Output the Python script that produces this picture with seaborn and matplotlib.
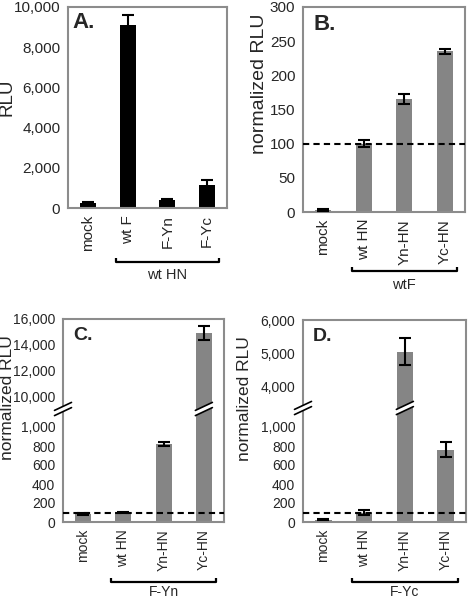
import matplotlib
matplotlib.use("Agg")
import matplotlib.pyplot as plt
import numpy as np
import seaborn as sns
from matplotlib.ticker import FixedLocator, FuncFormatter

# ---- data ----
cats_a = ["mock", "wt F", "F-Yn", "F-Yc"]
rlu_a = [250, 9100, 420, 1150]
err_a = [40, 500, 50, 250]

cats_b = ["mock", "wt HN", "Yn-HN", "Yc-HN"]
rlu_b = [3, 100, 165, 235]
err_b = [1, 5, 7, 4]

cats_c = ["mock", "wt HN", "Yn-HN", "Yc-HN"]
rlu_c = [82, 102, 825, 14950]
err_c = [12, 4, 20, 550]

cats_d = ["mock", "wt HN", "Yn-HN", "Yc-HN"]
rlu_d = [25, 100, 5050, 760]
err_d = [5, 25, 400, 80]

ticks_a = [0, 2000, 4000, 6000, 8000, 10000]
ticks_b = [0, 50, 100, 150, 200, 250, 300]
ticks_c = [0, 200, 400, 600, 800, 1000, 10000, 12000, 14000, 16000]
ticks_d = [0, 200, 400, 600, 800, 1000, 4000, 5000, 6000]

groups = ["wt HN", "wtF", "F-Yn", "F-Yc"]

SPINE = "#8c8c8c"
GRAY = "#858585"
W, H = 470, 600

sns.set_theme(style="white")
plt.rcParams["font.family"] = ["Liberation Sans", "DejaVu Sans"]


def piecewise(ys, ps):
    ys = np.asarray(ys, float)
    ps = np.asarray(ps, float)

    def make(a, b):
        lo = (b[1] - b[0]) / (a[1] - a[0])
        hi = (b[-1] - b[-2]) / (a[-1] - a[-2])

        def f(v):
            v = np.asarray(v, float)
            out = np.interp(v, a, b)
            out = np.where(v < a[0], b[0] + (v - a[0]) * lo, out)
            out = np.where(v > a[-1], b[-1] + (v - a[-1]) * hi, out)
            return out
        return f
    return make(ys, ps), make(ps, ys)


def px_axes(fig, l, r, t, b):
    return fig.add_axes([l / W, (H - b) / H, (r - l) / W, (b - t) / H])


def style_axes(ax, cats, tick_fs):
    for s in ax.spines.values():
        s.set_color(SPINE)
        s.set_linewidth(1.5)
    ax.set_xlim(-0.5, len(cats) - 0.5)
    ax.xaxis.set_minor_locator(FixedLocator(np.arange(-0.5, len(cats), 1.0)))
    ax.tick_params(axis="x", which="major", length=0, pad=5, labelsize=tick_fs, labelrotation=90)
    ax.tick_params(axis="x", which="minor", length=3.5, width=1.2, color=SPINE, direction="out")
    ax.tick_params(axis="y", length=3.5, width=1.2, color=SPINE, direction="out", pad=2,
                   labelsize=tick_fs)
    ax.set_xlabel("")
    ax.yaxis.set_major_formatter(FuncFormatter(lambda v, p: f"{v:,.0f}"))


def bracket(ax, label, y_br, y_lab, fs):
    tr = ax.get_xaxis_transform()
    bb = ax.get_position()
    up = 4 / (bb.height * H)
    ax.plot([0.7, 0.7, 3.3, 3.3], [y_br + up, y_br, y_br, y_br + up], color="black",
            lw=1.6, transform=tr, clip_on=False, solid_capstyle="butt")
    ax.text(2.0, y_lab, label, transform=tr, ha="center", va="center", fontsize=fs)


def break_mark(ax, xa, ya):
    bb = ax.get_position()
    axw, axh = bb.width * W, bb.height * H
    dx, dy, g = 8.5 / axw, 4 / axh, 2.6 / axh
    xs = [xa - dx, xa + dx]
    top = [ya + g - dy, ya + g + dy]
    bot = [ya - g - dy, ya - g + dy]
    ax.fill([xs[0], xs[1], xs[1], xs[0]], [bot[0], bot[1], top[1], top[0]], color="white",
            transform=ax.transAxes, clip_on=False, zorder=5, lw=0)
    for yy in (top, bot):
        ax.plot(xs, yy, color="black", lw=1.2, transform=ax.transAxes, clip_on=False, zorder=6)


def panel(ax, cats, vals, errs, color, letter, letter_fs, ylabel, ylabel_fs, tick_fs):
    sns.barplot(x=cats, y=vals, color=color, saturation=1, width=0.4, errorbar=None,
                linewidth=0, ax=ax)
    ax.errorbar(np.arange(len(cats)), vals, yerr=errs, fmt="none", ecolor="black",
                elinewidth=1.5, capsize=4, capthick=1.5, zorder=4)
    style_axes(ax, cats, tick_fs)
    ax.set_ylabel(ylabel, fontsize=ylabel_fs)
    ax.text(0.0, 0.0, letter, transform=ax.transAxes, fontsize=letter_fs, fontweight="bold",
            ha="left", va="top")
    return ax.texts[-1]


fig = plt.figure(figsize=(W / 100, H / 100), dpi=100)

# A
ax = px_axes(fig, 68, 227, 7, 208)
t = panel(ax, cats_a, rlu_a, err_a, "black", "A.", 16, "RLU", 13.5, 11)
t.set_position((0.03, 0.975))
ax.set_ylim(0, 10000)
ax.set_yticks(ticks_a)
ax.yaxis.set_label_coords(-0.33, 0.55)
bracket(ax, groups[0], -0.268, -0.333, 10.5)

# B
ax = px_axes(fig, 303, 465, 7, 212)
t = panel(ax, cats_b, rlu_b, err_b, GRAY, "B.", 16, "normalized RLU", 14, 11)
t.set_position((0.062, 0.966))
ax.set_ylim(0, 300)
ax.set_yticks(ticks_b)
ax.axhline(100, color="black", lw=1.5, ls=(0, (3, 2)), zorder=5)
ax.yaxis.set_label_coords(-0.216, 0.624)
bracket(ax, groups[1], -0.288, -0.356, 10.5)

# C
ax = px_axes(fig, 63, 224, 319, 522)
t = panel(ax, cats_c, rlu_c, err_c, GRAY, "C.", 14, "normalized RLU", 12.5, 10)
t.set_position((0.062, 0.96))
fwd, inv = piecewise([0, 1000, 10000, 16000], [0, 95, 125, 203])
ax.set_yscale("function", functions=(fwd, inv))
ax.set_ylim(0, 16000)
ax.set_yticks(ticks_c)
ax.yaxis.set_major_formatter(FuncFormatter(lambda v, p: f"{v:,.0f}"))
ax.yaxis.set_minor_locator(FixedLocator([]))
ax.axhline(100, color="black", lw=1.5, ls=(0, (3, 2)), zorder=5)
ax.yaxis.set_label_coords(-0.298, 0.611)
break_mark(ax, 0.0, 113 / 203)
break_mark(ax, 3.5 / 4, 113 / 203)
bracket(ax, groups[2], -0.296, -0.345, 10)

# D
ax = px_axes(fig, 303, 466, 320, 522)
t = panel(ax, cats_d, rlu_d, err_d, GRAY, "D.", 14, "normalized RLU", 12.5, 10)
t.set_position((0.061, 0.96))
fwd, inv = piecewise([0, 1000, 4000, 6000], [0, 95, 135, 202])
ax.set_yscale("function", functions=(fwd, inv))
ax.set_ylim(0, 6000)
ax.set_yticks(ticks_d)
ax.yaxis.set_major_formatter(FuncFormatter(lambda v, p: f"{v:,.0f}"))
ax.yaxis.set_minor_locator(FixedLocator([]))
ax.axhline(100, color="black", lw=1.5, ls=(0, (3, 2)), zorder=5)
ax.yaxis.set_label_coords(-0.313, 0.611)
break_mark(ax, 0.0, 114 / 202)
break_mark(ax, 2.5 / 4, 114 / 202)
bracket(ax, groups[3], -0.296, -0.345, 10)

fig.savefig("out.png", dpi=100, facecolor="white")
